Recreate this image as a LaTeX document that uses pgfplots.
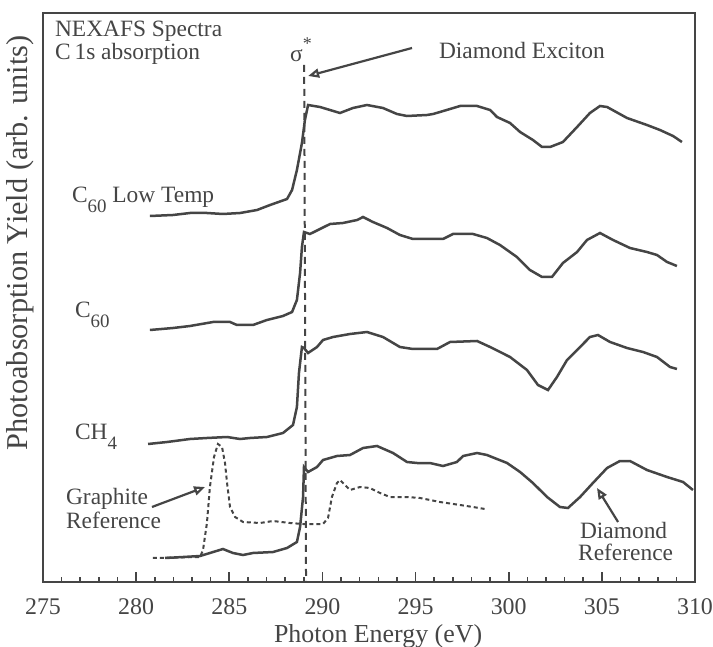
\documentclass[border=0pt]{standalone}
\usepackage{fontspec}
\setmainfont{Liberation Serif}
\usepackage{pgfplots}
\pgfplotsset{compat=1.18}
\usetikzlibrary{arrows.meta}
\definecolor{ink}{gray}{0.27}
\newcommand\lo[1]{\raisebox{-0.42em}{\fontsize{9.5}{10}\selectfont #1}}
\newcommand\ann{\fontsize{11.75}{11.5}\selectfont}
\begin{document}
\begin{tikzpicture}
\path[use as bounding box] (-21.5bp,-32.5bp) rectangle (335bp,291bp);
\begin{axis}[
  at={(0,0)}, anchor=south west,
  scale only axis, width=326bp, height=284.5bp,
  xmin=275, xmax=310, ymin=0, ymax=569,
  xtick={275,280,...,310}, minor x tick num=4,
  xtick pos=bottom, ytick=\empty,
  tick align=inside,
  major tick length=5bp, minor tick length=2.5bp,
  axis line style={ink, line width=1bp},
  every tick/.style={ink, line width=0.8bp},
  /pgf/number format/assume math mode=true,
  xticklabel style={font=\fontsize{12}{14}\selectfont, text=ink, anchor=center, yshift=-12.5bp},
  xlabel={Photon Energy (eV)},
  xlabel style={font=\fontsize{13}{15}\selectfont, text=ink, at={(axis description cs:0.514,-0.095)}, anchor=center},
  ylabel={Photoabsorption Yield (arb. units)},
  ylabel style={font=\fontsize{15.2}{17}\selectfont, text=ink, at={(axis description cs:-0.0353,0.596)}, anchor=center},
  clip=false,
]
% C60 Low Temp
\addplot[ink, line width=1.25bp] coordinates {
(280.74,366) (281.98,367) (282.89,369) (283.80,369) (284.66,368) (285.58,369)
(286.49,372) (287.19,377) (288.10,383) (288.37,392) (288.63,412) (288.90,439)
(289.06,462) (289.23,477) (289.87,475) (290.94,469) (291.64,474) (292.39,477)
(293.25,474) (294.00,468) (294.54,466) (295.61,467) (295.94,468) (296.31,470)
(297.39,476) (298.30,476) (299.00,472) (299.37,465) (300.07,459) (300.61,450)
(301.30,442) (301.79,435) (302.22,435) (302.91,440) (303.67,455) (304.36,469)
(304.90,476) (305.28,475) (306.35,464) (307.42,457) (308.12,452) (308.82,446)
(309.30,440)};
% C60
\addplot[ink, line width=1.25bp] coordinates {
(280.74,252) (281.98,254) (282.89,256) (284.13,260) (285.04,260) (285.41,257)
(286.27,257) (287.02,262) (287.88,266) (288.37,270) (288.63,282) (288.80,309)
(288.90,335) (289.01,350) (289.33,348) (289.87,353) (290.41,358) (291.10,359)
(291.86,362) (292.18,365) (292.71,360) (293.47,354) (294.16,347) (294.86,343)
(295.77,343) (296.47,343) (297.01,348) (298.08,348) (298.83,344) (299.53,337)
(300.44,325) (301.14,312) (301.79,305) (302.32,305) (302.91,319) (303.67,330)
(304.20,342) (304.90,349) (305.60,342) (306.51,334) (307.42,330) (307.96,327)
(308.50,320) (309.03,316)};
% CH4
\addplot[ink, line width=1.25bp] coordinates {
(280.64,138) (281.66,140) (282.89,143) (283.80,144) (284.88,145) (285.58,143)
(286.11,144) (287.02,145) (287.88,149) (288.42,157) (288.63,175) (288.74,209)
(288.90,235) (289.01,234) (289.23,229) (289.71,235) (290.03,242) (290.57,245)
(291.48,248) (292.39,250) (293.25,245) (294.16,235) (294.86,233) (296.15,233)
(296.85,240) (298.30,241) (299.00,235) (300.07,225) (300.98,212) (301.57,197)
(302.11,192) (302.59,205) (303.13,222) (303.83,235) (304.36,245) (304.79,247)
(305.44,240) (306.35,234) (307.21,230) (307.96,225) (308.66,215) (309.03,213)};
% Diamond reference
\addplot[ink, line width=1.25bp] coordinates {
(281.55,24) (282.52,25) (283.43,26) (283.96,29) (284.66,33) (285.20,29)
(285.74,27) (286.27,29) (287.35,30) (288.10,34) (288.63,40) (288.80,55)
(288.96,85) (289.01,115) (289.23,110) (289.71,115) (290.03,122) (290.78,126)
(291.48,127) (292.18,134) (292.93,136) (293.79,129) (294.54,120) (295.08,119)
(295.77,119) (296.47,116) (297.22,120) (297.55,126) (298.30,129) (298.83,127)
(299.91,119) (300.61,110) (301.30,99) (302.06,85) (302.75,75) (303.18,74)
(303.83,85) (304.52,99) (305.28,114) (305.97,121) (306.51,121) (307.42,112)
(308.50,105) (309.36,100) (309.89,92)};
% Graphite reference (dashed)
\addplot[ink, line width=1bp, dash pattern=on 2bp off 1.5bp] coordinates {
(280.90,24) (283.43,25) (283.59,32) (283.80,59) (283.96,95) (284.18,125)
(284.39,138) (284.61,135) (284.77,119) (284.88,99) (285.04,75) (285.31,65)
(285.74,60) (286.65,59) (287.35,61) (288.26,59) (288.96,58) (290.03,58)
(290.30,64) (290.51,85) (290.78,99) (290.94,102) (291.21,97) (291.48,92)
(292.02,95) (292.55,94) (293.09,89) (293.63,85) (294.54,85) (295.24,84)
(296.31,80) (297.39,77) (298.08,75) (298.73,73)};
% sigma* line
\addplot[ink, line width=1bp, dash pattern=on 3.5bp off 2.5bp] coordinates {(289.02,517) (289.12,0)};
% text
\node[anchor=base west, text=ink, font=\ann] at (axis cs:275.27,545) {NEXAFS Spectra};
\node[anchor=base west, text=ink, font=\ann] at (axis cs:275.27,522) {C\,1s absorption};
\node[anchor=base, text=ink, font=\ann] at (axis cs:288.85,520) {σ\raisebox{0.55em}{\fontsize{9}{9}\selectfont *}};
\node[anchor=base west, text=ink, font=\ann] at (axis cs:295.88,523) {Diamond Exciton};
\draw[ink, line width=1.1bp, -{Triangle[open,length=5.5bp,width=4.5bp]}] (axis cs:294.81,534) -- (axis cs:289.23,506);
\node[anchor=base west, text=ink, font=\ann] at (axis cs:276.18,379) {C\lo{60} Low Temp};
\node[anchor=base west, text=ink, font=\ann] at (axis cs:276.34,264) {C\lo{60}};
\node[anchor=base west, text=ink, font=\ann] at (axis cs:276.34,142) {CH\lo{4}};
\node[anchor=base west, text=ink, font=\ann] at (axis cs:275.86,77) {Graphite};
\node[anchor=base west, text=ink, font=\ann] at (axis cs:275.86,54) {Reference};
\draw[ink, line width=1.1bp, -{Triangle[open,length=5.5bp,width=4.5bp]}] (axis cs:280.85,75) -- (axis cs:283.70,95);
\node[anchor=base west, text=ink, font=\ann] at (axis cs:303.45,44) {Diamond};
\node[anchor=base west, text=ink, font=\ann] at (axis cs:303.35,22) {Reference};
\draw[ink, line width=1.1bp, -{Triangle[open,length=5.5bp,width=4.5bp]}] (axis cs:305.87,60) -- (axis cs:304.74,94);
\end{axis}
\end{tikzpicture}
\end{document}
